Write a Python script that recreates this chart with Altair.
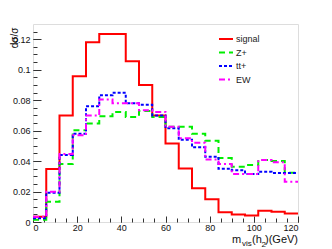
import altair as alt
import pandas as pd

edges = [0, 6, 12, 18, 24, 30, 36, 42, 48, 54, 60, 66, 72, 78, 84, 90, 96, 102, 108, 114, 120]
series_names = ["signal", "Z+", "tt+", "EW"]
signal = [0.0035, 0.0348, 0.0700, 0.0957, 0.1180, 0.1235, 0.1235, 0.1056, 0.0900, 0.0700,
          0.0516, 0.0352, 0.0221, 0.0149, 0.0064, 0.0050, 0.0042, 0.0074, 0.0067, 0.0056]
zplus = [0.0015, 0.0133, 0.0380, 0.0603, 0.0647, 0.0695, 0.0723, 0.0690, 0.0728, 0.0690,
         0.0625, 0.0625, 0.0580, 0.0533, 0.0420, 0.0363, 0.0374, 0.0407, 0.0400, 0.0323]
ttplus = [0.0025, 0.0192, 0.0440, 0.0580, 0.0760, 0.0833, 0.0848, 0.0780, 0.0770, 0.0700,
          0.0616, 0.0540, 0.0490, 0.0428, 0.0350, 0.0340, 0.0315, 0.0330, 0.0322, 0.0322]
ew = [0.0035, 0.0199, 0.0446, 0.0570, 0.0700, 0.0805, 0.0780, 0.0780, 0.0734, 0.0723,
      0.0626, 0.0550, 0.0520, 0.0410, 0.0380, 0.0315, 0.0315, 0.0407, 0.0392, 0.0264]
colors = ["#ff0000", "#00ee00", "#0000ff", "#ff00ff"]
dashes = [[1, 0], [6, 4], [3, 2], [6, 3, 2, 3]]

y_major = [0, 0.02, 0.04, 0.06, 0.08, 0.1, 0.12]
y_minor = [round(i * 0.005, 3) for i in range(26)]
x_major = [0, 20, 40, 60, 80, 100, 120]
x_minor = list(range(0, 121, 5))

rows = []
for name, vals in zip(series_names, [signal, zplus, ttplus, ew]):
    vv = vals + [vals[-1]]
    for x, v in zip(edges, vv):
        rows.append({"x": x, "y": v, "series": name})
df = pd.DataFrame(rows)

W, H = 265, 198
FONT = "Liberation Sans"
xscale = alt.Scale(domain=[0, 120], nice=False, zero=False)
yscale = alt.Scale(domain=[0, 0.13], nice=False)

leg = alt.Legend(title=None, orient="none", legendX=185, legendY=7, symbolType="stroke",
                 symbolSize=196, symbolStrokeWidth=2, labelFontSize=9, labelFont=FONT,
                 labelColor="#222", rowPadding=0.5, labelOffset=2, padding=0)

lines = alt.Chart(df).mark_line(interpolate="step-after", strokeWidth=2, clip=True).encode(
    x=alt.X("x:Q", scale=xscale, axis=alt.Axis(values=x_major, ticks=False, domain=False, grid=False,
                                               labelFontSize=9, labelFont=FONT, labelPadding=1,
                                               labelColor="#111", title=None)),
    y=alt.Y("y:Q", scale=yscale, axis=alt.Axis(values=y_major, format="~g", ticks=False, domain=False,
                                               grid=False, labelFontSize=9, labelFont=FONT,
                                               labelPadding=3, labelColor="#111",
                                               title="dσ/σ", titleFontSize=10, titleFont=FONT,
                                               titleFontWeight="normal", titleAngle=-90,
                                               titleAlign="right", titleBaseline="middle",
                                               titleX=-19, titleY=3)),
    color=alt.Color("series:N", scale=alt.Scale(domain=series_names, range=colors), legend=leg),
    strokeDash=alt.StrokeDash("series:N", scale=alt.Scale(domain=series_names, range=dashes), legend=leg),
)

def tick_layer(xvals, yvals, xsize, ysize):
    return alt.Chart(df).mark_point(opacity=0).encode(
        x=alt.X("x:Q", scale=xscale, axis=alt.Axis(orient="top", offset=-H, values=xvals, tickSize=xsize,
                                                   labels=False, domain=False, grid=False, title=None,
                                                   tickColor="#333", tickWidth=1)),
        y=alt.Y("y:Q", scale=yscale, axis=alt.Axis(orient="right", offset=-W, values=yvals, tickSize=ysize,
                                                   labels=False, domain=False, grid=False, title=None,
                                                   tickColor="#333", tickWidth=1)),
    )

major = tick_layer(x_major, y_major, 6, 8)
minor = tick_layer(x_minor, y_minor, 4, 4)

def txt(s, x, y, size):
    return alt.Chart(alt.Data(values=[{}])).mark_text(
        text=s, align="left", baseline="alphabetic", fontSize=size, font=FONT, color="#111"
    ).encode(x=alt.value(x), y=alt.value(y))

title_parts = [
    txt("m", 199, 219, 11),
    txt("vis", 209, 222, 8),
    txt("(h", 219, 219, 11),
    txt("2", 228.5, 223, 8),
    txt(")(GeV)", 232, 219, 11),
]

chart = alt.layer(lines, major, minor, *title_parts).resolve_axis(
    x="independent", y="independent"
).properties(
    width=W, height=H,
    autosize=alt.AutoSizeParams(type="none"),
    padding={"left": 25, "top": 16, "right": 10, "bottom": 29},
).configure_view(stroke="#808080", strokeWidth=1.3).configure(background="white")

chart.save("out.html", embed_options={"renderer": "svg", "actions": False})
